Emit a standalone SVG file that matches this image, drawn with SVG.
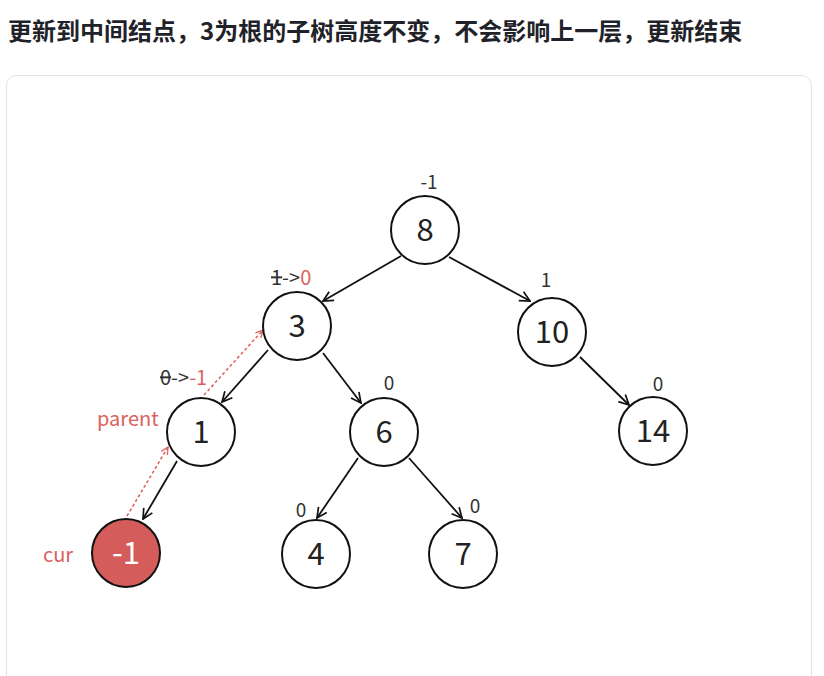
<svg xmlns="http://www.w3.org/2000/svg" width="824" height="676" viewBox="0 0 824 676">
<style>
text{font-family:"Noto Sans CJK SC","Noto Sans",sans-serif;}
.title{font-size:24px;font-weight:bold;fill:#1f2329;}
.node circle{fill:#fff;stroke:#111;stroke-width:2;}
.node text{font-size:31px;fill:#222;text-anchor:middle;}
.node.cur circle{fill:#d45d5b;}
.node.cur text{fill:#fff;}
.lbl{font-size:19px;fill:#333;text-anchor:middle;}
.chg{font-size:20px;fill:#333;}
.red{fill:#d9625e;}
.edge{stroke:#111;stroke-width:1.8;fill:none;marker-end:url(#arr);}
.back{stroke:#dd6661;stroke-width:1.6;stroke-dasharray:3 2.5;fill:none;marker-end:url(#arrRed);}
</style>
<defs>
<marker id="arr" viewBox="0 0 12 12" refX="11" refY="6" markerWidth="12" markerHeight="12" orient="auto" markerUnits="userSpaceOnUse">
<path d="M1,1 L11,6 L1,11" fill="none" stroke="#111" stroke-width="1.7"/>
</marker>
<marker id="arrRed" viewBox="0 0 10 10" refX="9" refY="5" markerWidth="9" markerHeight="9" orient="auto" markerUnits="userSpaceOnUse">
<path d="M1,1 L9,5 L1,9" fill="none" stroke="#dd6661" stroke-width="1.5"/>
</marker>
</defs>
<rect x="0" y="0" width="824" height="676" fill="#fff"/>
<text class="title" x="8" y="40">更新到中间结点，3为根的子树高度不变，不会影响上一层，更新结束</text>
<rect x="6.5" y="75.5" width="805" height="612" rx="10" fill="#fff" stroke="#e3e3e3" stroke-width="1"/>

<g id="connectors">
<line class="edge" x1="401" y1="256" x2="323" y2="301"/>
<line class="edge" x1="449" y1="257" x2="530" y2="301"/>
<line class="edge" x1="268" y1="350" x2="222" y2="402"/>
<line class="edge" x1="323" y1="353" x2="361" y2="403"/>
<line class="edge" x1="580" y1="357" x2="629" y2="405"/>
<line class="edge" x1="177" y1="461" x2="143" y2="519"/>
<line class="edge" x1="358" y1="458" x2="317" y2="518"/>
<line class="edge" x1="409" y1="458" x2="462" y2="518"/>
<line class="back" x1="127" y1="516" x2="168" y2="447"/>
<line class="back" x1="204" y1="395" x2="263" y2="330"/>
</g>

<g id="node-8" class="node"><circle cx="425" cy="230" r="34"/><text x="425" y="241">8</text></g>
<g id="node-3" class="node"><circle cx="297" cy="326" r="34"/><text x="297" y="337">3</text></g>
<g id="node-10" class="node"><circle cx="552" cy="332" r="34"/><text x="552" y="343">10</text></g>
<g id="node-1" class="node"><circle cx="201" cy="432" r="34"/><text x="201" y="443">1</text></g>
<g id="node-6" class="node"><circle cx="384" cy="432" r="34"/><text x="384" y="443">6</text></g>
<g id="node-14" class="node"><circle cx="653" cy="431" r="34"/><text x="653" y="442">14</text></g>
<g id="node-m1" class="node cur"><circle cx="126" cy="553" r="34"/><text x="126" y="564">-1</text></g>
<g id="node-4" class="node"><circle cx="316" cy="554" r="34"/><text x="316" y="565">4</text></g>
<g id="node-7" class="node"><circle cx="463" cy="554" r="34"/><text x="463" y="565">7</text></g>

<g id="labels">
<text class="lbl" x="429" y="189">-1</text>
<text class="chg" x="271" y="285"><tspan text-decoration="line-through">1</tspan>-&gt;<tspan class="red">0</tspan></text>
<text class="lbl" x="546" y="287">1</text>
<text class="chg" x="160" y="385"><tspan text-decoration="line-through">0</tspan>-&gt;<tspan class="red">-1</tspan></text>
<text class="lbl" x="389" y="390">0</text>
<text class="lbl" x="658" y="391">0</text>
<text class="lbl" x="301" y="517">0</text>
<text class="lbl" x="475" y="513">0</text>
<text class="chg red" x="97" y="426">parent</text>
<text class="chg red" x="43" y="562">cur</text>
</g>
</svg>
